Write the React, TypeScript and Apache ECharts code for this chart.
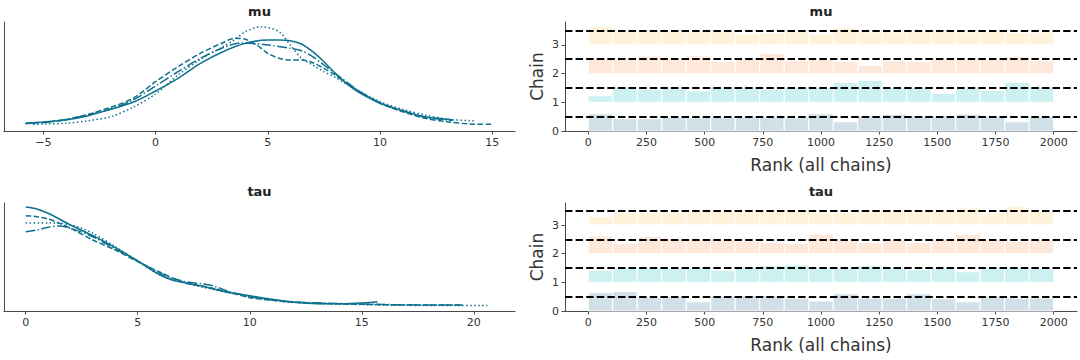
import React, { useEffect, useRef } from 'react';
import * as echarts from 'echarts';

// ---------- KDE data: mu (4 chains) ----------
const muChain0X = [-5.76, -5, -4, -3, -2, -1, 0, 1, 2, 3, 4, 5, 5.5, 6, 6.5, 7, 7.5, 8, 8.5, 9, 10, 11, 12, 13, 13.25];
const muChain0Y = [0.0077, 0.009, 0.011, 0.0153, 0.0217, 0.0287, 0.04, 0.0527, 0.0677, 0.0793, 0.0877, 0.091, 0.091, 0.0903, 0.087, 0.0793, 0.0693, 0.0577, 0.0477, 0.0393, 0.0277, 0.0203, 0.0143, 0.0117, 0.011];
const muChain1X = [-5.8, -5, -4, -3, -2, -1, 0, 1, 2, 3, 3.5, 4, 4.5, 5, 5.5, 6, 6.5, 7, 7.5, 8, 8.5, 9, 10, 11, 12, 13, 14, 14.95];
const muChain1Y = [0.0075, 0.0085, 0.0115, 0.0167, 0.0237, 0.0327, 0.0493, 0.0643, 0.0777, 0.0883, 0.0927, 0.0917, 0.086, 0.0777, 0.0727, 0.071, 0.071, 0.0683, 0.0627, 0.056, 0.0477, 0.0403, 0.0277, 0.0193, 0.0127, 0.0093, 0.007, 0.0067];
const muChain2X = [-5.8, -5, -4, -3, -2, -1, 0, 1, 2, 3, 3.8, 5, 6, 6.5, 7, 7.5, 8, 9, 10, 11, 12, 13, 13.2];
const muChain2Y = [0.0075, 0.0085, 0.0115, 0.016, 0.022, 0.031, 0.045, 0.0593, 0.0727, 0.0833, 0.088, 0.086, 0.0827, 0.0803, 0.0743, 0.066, 0.0577, 0.041, 0.0283, 0.0203, 0.0137, 0.011, 0.0107];
const muChain3X = [-5.45, -5, -4, -3, -2, -1, 0, 1, 2, 3, 3.5, 4, 4.7, 5.5, 6, 6.5, 7, 7.5, 8, 8.5, 9, 10, 11, 12, 13, 14, 14.2];
const muChain3Y = [0.0065, 0.007, 0.0077, 0.0103, 0.0143, 0.0237, 0.037, 0.056, 0.0717, 0.0843, 0.091, 0.0993, 0.1043, 0.0993, 0.086, 0.0727, 0.066, 0.0593, 0.0537, 0.047, 0.041, 0.0293, 0.0217, 0.016, 0.0117, 0.0103, 0.01];

// ---------- KDE data: tau (4 chains) ----------
const tauChain0X = [0, 0.5, 1, 1.5, 2, 3, 4, 5, 5.5, 6, 6.5, 7, 8, 9, 10, 11, 12, 13, 14, 15, 15.7];
const tauChain0Y = [0.104, 0.102, 0.0977, 0.092, 0.086, 0.0753, 0.0633, 0.05, 0.0427, 0.036, 0.0313, 0.0287, 0.0243, 0.0187, 0.0153, 0.0117, 0.0087, 0.0073, 0.0073, 0.008, 0.0093];
const tauChain1X = [0, 0.5, 1, 1.5, 2, 3, 4, 5, 6, 7, 8, 9, 10, 11, 12, 13, 15, 17, 19.4];
const tauChain1Y = [0.0953, 0.0943, 0.092, 0.0877, 0.0827, 0.071, 0.061, 0.0493, 0.0387, 0.0287, 0.0243, 0.0193, 0.0133, 0.0107, 0.0087, 0.0077, 0.0067, 0.006, 0.006];
const tauChain2X = [0, 0.5, 1, 1.5, 2, 3, 4, 5, 6, 7, 8, 8.5, 9, 10, 11, 12, 14, 16, 18, 19.5];
const tauChain2Y = [0.0793, 0.081, 0.0837, 0.085, 0.0827, 0.0743, 0.062, 0.05, 0.0377, 0.03, 0.0267, 0.0243, 0.02, 0.0143, 0.011, 0.009, 0.0075, 0.0065, 0.006, 0.006];
const tauChain3X = [0, 1, 1.5, 2, 2.5, 3, 4, 5, 6, 7, 8, 9, 10, 11, 12, 14, 16, 18, 20.7];
const tauChain3Y = [0.088, 0.088, 0.088, 0.086, 0.0827, 0.0777, 0.0643, 0.05, 0.036, 0.0287, 0.0233, 0.0187, 0.0143, 0.011, 0.0085, 0.007, 0.006, 0.0055, 0.0055];

// ---------- Rank bars ----------
const rankBinEdges = [0, 105.3, 210.5, 315.8, 421.1, 526.3, 631.6, 736.8, 842.1, 947.4, 1052.6, 1157.9, 1263.2, 1368.4, 1473.7, 1578.9, 1684.2, 1789.5, 1894.7, 2000];
const muRank0 = [0.60, 0.43, 0.43, 0.47, 0.46, 0.49, 0.49, 0.49, 0.46, 0.60, 0.32, 0.52, 0.58, 0.52, 0.52, 0.59, 0.52, 0.32, 0.50];
const muRank1 = [0.23, 0.54, 0.46, 0.49, 0.40, 0.54, 0.54, 0.46, 0.52, 0.52, 0.69, 0.76, 0.52, 0.52, 0.31, 0.49, 0.42, 0.69, 0.54];
const muRank2 = [0.54, 0.54, 0.62, 0.54, 0.62, 0.42, 0.54, 0.71, 0.45, 0.49, 0.42, 0.28, 0.45, 0.42, 0.54, 0.51, 0.51, 0.60, 0.45];
const muRank3 = [0.64, 0.51, 0.52, 0.52, 0.52, 0.51, 0.38, 0.43, 0.51, 0.38, 0.60, 0.45, 0.45, 0.47, 0.54, 0.45, 0.47, 0.43, 0.45];
const tauRank0 = [0.64, 0.68, 0.47, 0.50, 0.32, 0.52, 0.54, 0.54, 0.45, 0.35, 0.60, 0.45, 0.45, 0.60, 0.43, 0.32, 0.52, 0.45, 0.45];
const tauRank1 = [0.42, 0.52, 0.52, 0.50, 0.52, 0.42, 0.54, 0.58, 0.61, 0.51, 0.50, 0.58, 0.52, 0.44, 0.50, 0.37, 0.52, 0.52, 0.50];
const tauRank2 = [0.62, 0.36, 0.60, 0.51, 0.51, 0.51, 0.44, 0.39, 0.37, 0.67, 0.46, 0.39, 0.51, 0.39, 0.51, 0.67, 0.49, 0.43, 0.49];
const tauRank3 = [0.29, 0.43, 0.43, 0.46, 0.51, 0.52, 0.52, 0.52, 0.54, 0.45, 0.43, 0.52, 0.52, 0.52, 0.52, 0.60, 0.43, 0.64, 0.47];
const muRefLevel = 0.51;
const tauRefLevel = 0.50;

// ---------- Tick labels ----------
const chainTicks = [0, 1, 2, 3];
const muTicks = [-5, 0, 5, 10, 15];
const tauTicks = [0, 5, 10, 15, 20];
const rankTicks = [0, 250, 500, 750, 1000, 1250, 1500, 1750, 2000];

const LINE_COLOR = '#0f718e';
const RANK_COLORS = ['#d0e0e6', '#ccf1f0', '#fde8da', '#fff3dc'];
const FONT = '"DejaVu Sans", "Liberation Sans", sans-serif';
const AXIS_COLOR = '#4a4a4a';
const LABEL_COLOR = '#333333';
const LW = 1.5;
const LINE_TYPES: any[] = ['solid', [5.55, 2.4], [9.6, 2.4, 1.5, 2.4], [1.5, 2.475]];

const zip = (xs: number[], ys: number[]) => xs.map((x, i) => [x, ys[i]]);
const fmt = (v: number) => String(v).replace('-', '\u2212');

function kdeSeries(xs: number[][], ys: number[][], axis: number) {
  return xs.map((x, c) => ({
    type: 'line',
    xAxisIndex: axis,
    yAxisIndex: axis,
    data: zip(x, ys[c]),
    showSymbol: false,
    symbol: 'none',
    smooth: 0.3,
    silent: true,
    lineStyle: { color: LINE_COLOR, width: LW, type: LINE_TYPES[c], cap: 'butt' },
    z: 2,
  }));
}

function rankSeries(ranks: number[][], ref: number, axis: number) {
  const data: number[][] = [];
  ranks.forEach((r, c) => {
    r.forEach((h, i) => data.push([rankBinEdges[i], rankBinEdges[i + 1], c, h]));
  });
  return {
    type: 'custom',
    xAxisIndex: axis,
    yAxisIndex: axis,
    data,
    encode: { x: [0, 1], y: [2, 3] },
    silent: true,
    renderItem: (params: any, api: any) => {
      const x0 = api.value(0);
      const x1 = api.value(1);
      const base = api.value(2);
      const h = api.value(3);
      const p0 = api.coord([x0, base + h]);
      const p1 = api.coord([x1, base]);
      return {
        type: 'rect',
        shape: { x: p0[0], y: p0[1], width: p1[0] - p0[0], height: p1[1] - p0[1] },
        style: { fill: RANK_COLORS[base], stroke: '#ffffff', lineWidth: 1 },
      };
    },
    markLine: {
      silent: true,
      symbol: 'none',
      label: { show: false },
      lineStyle: { color: '#000000', width: 2, type: [7.4, 3.2] },
      data: chainTicks.map((c) => ({ yAxis: c + ref })),
      z: 5,
    },
  };
}

function kdeX(grid: number, min: number, max: number, ticks: number[]) {
  return {
    type: 'value', gridIndex: grid, min, max,
    axisLine: { show: true, onZero: false, lineStyle: { color: AXIS_COLOR, width: 1 } },
    axisTick: { show: true, customValues: ticks, length: 3.5, lineStyle: { color: AXIS_COLOR } },
    axisLabel: { show: true, customValues: ticks, formatter: fmt, color: LABEL_COLOR, fontSize: 11, fontFamily: FONT, margin: 6 },
    splitLine: { show: false },
  };
}

function rankX(grid: number) {
  return {
    type: 'value', gridIndex: grid, min: -100, max: 2100,
    name: 'Rank (all chains)', nameLocation: 'middle', nameGap: 25,
    nameTextStyle: { fontSize: 17, fontFamily: FONT, color: LABEL_COLOR },
    axisLine: { show: true, onZero: false, lineStyle: { color: AXIS_COLOR, width: 1 } },
    axisTick: { show: true, customValues: rankTicks, length: 3.5, lineStyle: { color: AXIS_COLOR } },
    axisLabel: { show: true, customValues: rankTicks, formatter: (v: number) => String(v), color: LABEL_COLOR, fontSize: 11, fontFamily: FONT, margin: 6 },
    splitLine: { show: false },
  };
}

function kdeY(grid: number, max: number) {
  return {
    type: 'value', gridIndex: grid, min: 0, max,
    axisLine: { show: true, onZero: false, lineStyle: { color: AXIS_COLOR, width: 1 } },
    axisTick: { show: false },
    axisLabel: { show: false },
    splitLine: { show: false },
  };
}

function rankY(grid: number, max: number) {
  return {
    type: 'value', gridIndex: grid, min: 0, max,
    name: 'Chain', nameLocation: 'middle', nameGap: 20, nameRotate: 90,
    nameTextStyle: { fontSize: 17, fontFamily: FONT, color: LABEL_COLOR },
    axisLine: { show: true, onZero: false, lineStyle: { color: AXIS_COLOR, width: 1 } },
    axisTick: { show: true, customValues: chainTicks, length: 3.5, lineStyle: { color: AXIS_COLOR } },
    axisLabel: { show: true, customValues: chainTicks, formatter: (v: number) => String(v), color: LABEL_COLOR, fontSize: 11, fontFamily: FONT, margin: 6 },
    splitLine: { show: false },
  };
}

const titleText = (text: string, x: number, y: number) => ({
  type: 'text', x, y, silent: true,
  style: { text, fill: '#222222', font: `bold 13px ${FONT}`, align: 'center', verticalAlign: 'middle' },
});

export default function App() {
  const ref = useRef<HTMLDivElement>(null);
  useEffect(() => {
    if (!ref.current) return;
    const chart = echarts.init(ref.current, undefined, { renderer: 'svg' });
    chart.setOption({
      animation: false,
      backgroundColor: '#ffffff',
      grid: [
        { left: 4, top: 22, width: 511, height: 109 },
        { left: 565, top: 22, width: 512, height: 109 },
        { left: 4, top: 203, width: 511, height: 108 },
        { left: 565, top: 203, width: 512, height: 108 },
      ],
      xAxis: [
        kdeX(0, -6.75, 16.01, muTicks),
        rankX(1),
        kdeX(2, -0.97, 21.84, tauTicks),
        rankX(3),
      ],
      yAxis: [
        kdeY(0, 0.109),
        rankY(1, 3.8),
        kdeY(2, 0.108),
        rankY(3, 3.77),
      ],
      graphic: [
        titleText('mu', 259.5, 11),
        titleText('mu', 821, 11),
        titleText('tau', 259.5, 191),
        titleText('tau', 821, 191),
      ],
      series: [
        ...kdeSeries([muChain0X, muChain1X, muChain2X, muChain3X], [muChain0Y, muChain1Y, muChain2Y, muChain3Y], 0),
        rankSeries([muRank0, muRank1, muRank2, muRank3], muRefLevel, 1),
        ...kdeSeries([tauChain0X, tauChain1X, tauChain2X, tauChain3X], [tauChain0Y, tauChain1Y, tauChain2Y, tauChain3Y], 2),
        rankSeries([tauRank0, tauRank1, tauRank2, tauRank3], tauRefLevel, 3),
      ],
    });
    return () => chart.dispose();
  }, []);
  return <div ref={ref} style={{ position: 'fixed', left: 0, top: 0, width: 1080, height: 360 }} />;
}
